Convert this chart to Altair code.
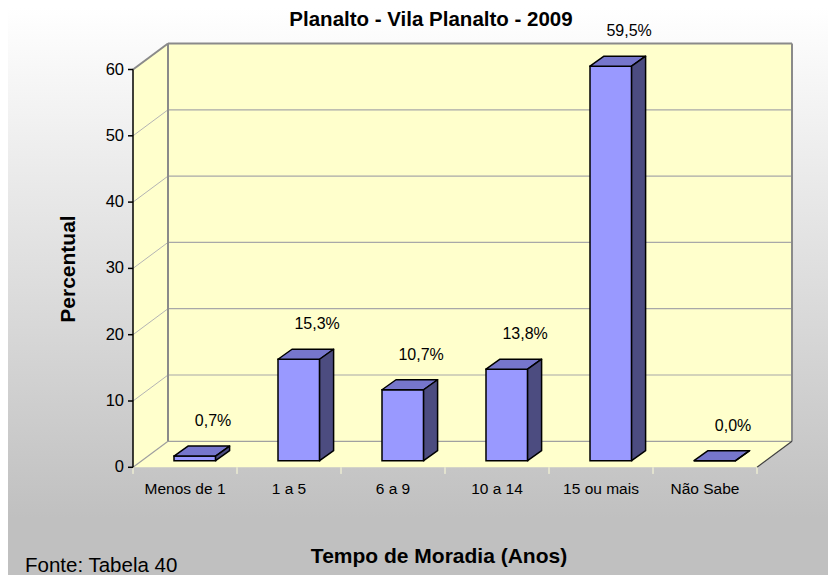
import altair as alt
import pandas as pd

# ---------------- data ----------------
categories = ["Menos de 1", "1 a 5", "6 a 9", "10 a 14", "15 ou mais", "Não Sabe"]
values = [0.7, 15.3, 10.7, 13.8, 59.5, 0.0]
value_labels = ["0,7%", "15,3%", "10,7%", "13,8%", "59,5%", "0,0%"]
y_ticks = [0, 10, 20, 30, 40, 50, 60]
title_text = "Planalto -  Vila Planalto - 2009"
x_title = "Tempo de Moradia (Anos)"
y_title = "Percentual"
source_text = "Fonte: Tabela 40"

# ---------------- layout ----------------
W, H = 820, 567          # plot area = whole canvas
PX_U = 104.0             # pixels per category
PX_V = 6.63              # pixels per percent
OX, OY = 125.0, 459.3    # canvas position of (0, 0) on the front plane
UMIN, UMAX = -OX / PX_U, (W - OX) / PX_U
VMIN, VMAX = (OY - H) / PX_V, OY / PX_V
N = len(categories)
VTOP = 60

DX = 35 / PX_U           # wall depth
DV = 26 / PX_V
SH = 9.8 / PX_U          # bar front plane shift
BASE = 6.6 / PX_V
HW = 0.2                 # half bar width
BDX = 14 / PX_U          # bar depth
BDV = 10 / PX_V
TICK_U = 5 / PX_U

YELLOW = "#ffffcc"
FONT = "Liberation Sans"

XS = alt.Scale(domain=[UMIN, UMAX], nice=False, zero=False)
YS = alt.Scale(domain=[VMIN, VMAX], nice=False, zero=False)


def X(f):
    return alt.X(f, type="quantitative", scale=XS, axis=None)


def Y(f):
    return alt.Y(f, type="quantitative", scale=YS, axis=None)


def pu(px):  # page x -> units
    return (px - 8 - OX) / PX_U


def pv(py):  # page y -> units
    return (OY - (py - 8)) / PX_V


def segs(rows):
    return pd.DataFrame(rows, columns=["u", "v", "u2", "v2"])


def rule_layer(rows, color, width):
    return alt.Chart(segs(rows)).mark_rule(color=color, strokeWidth=width).encode(
        x=X("u"), y=Y("v"), x2="u2", y2="v2")


def text_layer(df, **kw):
    return alt.Chart(df).mark_text(font=FONT, color="black", **kw).encode(
        x=X("u"), y=Y("v"), text="t:N")


# ---------------- background ----------------
bg_df = pd.DataFrame({"u": [UMIN], "u2": [UMAX], "v": [VMIN], "v2": [VMAX]})
bg = alt.Chart(bg_df).mark_rect(
    color=alt.LinearGradient(
        gradient="linear", x1=0, y1=0, x2=0, y2=1,
        stops=[alt.GradientStop(offset=0, color="#ffffff"),
               alt.GradientStop(offset=0.9, color="#c0c0c0"),
               alt.GradientStop(offset=1, color="#c0c0c0")],
    )
).encode(x=X("u"), x2="u2", y=Y("v"), y2="v2")

# floor
floor_df = pd.DataFrame({"u": [0, DX, N, N + DX], "v": [0, 0, 0, DV], "v2": [0, DV, DV, DV]})
floor = alt.Chart(floor_df).mark_area(orient="vertical", color=YELLOW).encode(
    x=X("u"), y=Y("v"), y2="v2")

# left wall
lw_df = pd.DataFrame({"u": [0, DX], "v": [0, DV], "v2": [VTOP, VTOP + DV]})
left_wall = alt.Chart(lw_df).mark_area(orient="vertical", color=YELLOW).encode(
    x=X("u"), y=Y("v"), y2="v2")

# back wall
bw_df = pd.DataFrame({"u": [DX], "u2": [N + DX], "v": [DV], "v2": [VTOP + DV]})
back_wall = alt.Chart(bw_df).mark_rect(color=YELLOW).encode(
    x=X("u"), x2="u2", y=Y("v"), y2="v2")

grid_vals = [t for t in y_ticks if 0 < t < VTOP]
grid_back = rule_layer([(DX, t + DV, N + DX, t + DV) for t in grid_vals], "#a8a8a8", 1.2)
grid_side = rule_layer([(0, t, DX, t + DV) for t in grid_vals], "#b4b4b4", 1)
frame_thin = rule_layer([(DX, DV, N + DX, DV), (0, 0, DX, DV)], "#a0a0a0", 1.2)
frame_thick = rule_layer([
    (DX, VTOP + DV, N + DX, VTOP + DV),
    (DX, DV, DX, VTOP + DV),
    (N + DX, DV, N + DX, VTOP + DV),
    (0, VTOP, DX, VTOP + DV),
], "#8a8a8a", 2)
floor_edge = rule_layer([(N, 0, N + DX, DV)], "#404040", 1.2)
y_line = rule_layer([(0, 0, 0, VTOP)], "black", 1.5)
y_tick_marks = rule_layer([(0, t, -TICK_U, t) for t in y_ticks], "black", 1.5)
x_ticks = rule_layer([(k, 0, k, -1.0) for k in range(N + 1)], "#ffffd8", 1)

# ---------------- bars ----------------
front_rows, top_rows, side_rows = [], [], []
for i, val in enumerate(values):
    x0 = i + 0.5 + SH - HW
    x1 = i + 0.5 + SH + HW
    T = BASE + val
    front_rows.append({"bar": i, "u": x0, "u2": x1, "v": BASE, "v2": T})
    top_rows += [
        {"bar": i, "u": x0, "v": T, "v2": T},
        {"bar": i, "u": x0 + BDX, "v": T, "v2": T + BDV},
        {"bar": i, "u": x1, "v": T, "v2": T + BDV},
        {"bar": i, "u": x1 + BDX, "v": T + BDV, "v2": T + BDV},
    ]
    side_rows += [
        {"bar": i, "u": x1, "v": BASE, "v2": T},
        {"bar": i, "u": x1 + BDX, "v": BASE + BDV, "v2": T + BDV},
    ]

front = alt.Chart(pd.DataFrame(front_rows)).mark_rect(
    color="#9999ff", stroke="black", strokeWidth=1.5).encode(
    x=X("u"), x2="u2", y=Y("v"), y2="v2")
top = alt.Chart(pd.DataFrame(top_rows)).mark_area(
    orient="vertical", color="#7676cc", stroke="black", strokeWidth=1.5,
    strokeJoin="round").encode(x=X("u"), y=Y("v"), y2="v2", detail="bar:N")
side = alt.Chart(pd.DataFrame(side_rows)).mark_area(
    orient="vertical", color="#4c4c80", stroke="black", strokeWidth=1.5,
    strokeJoin="round").encode(x=X("u"), y=Y("v"), y2="v2", detail="bar:N")

# ---------------- texts ----------------
labels = text_layer(pd.DataFrame({
    "u": [i + 0.5 + 0.27 for i in range(N)],
    "v": [v + 6.3 for v in values],
    "t": value_labels,
}), fontSize=16, baseline="middle", align="center")

y_labels = text_layer(pd.DataFrame({
    "u": [-(TICK_U + 4 / PX_U)] * len(y_ticks),
    "v": y_ticks,
    "t": [str(t) for t in y_ticks],
}), fontSize=16.5, baseline="middle", align="right")

x_labels = text_layer(pd.DataFrame({
    "u": [i + 0.5 for i in range(N)],
    "v": [pv(489)] * N,
    "t": categories,
}), fontSize=15.5, baseline="middle", align="center")

title = text_layer(pd.DataFrame({"u": [pu(431)], "v": [pv(20)], "t": [title_text]}),
                   fontSize=20.5, fontWeight="bold", baseline="middle", align="center")
x_title_l = text_layer(pd.DataFrame({"u": [pu(439)], "v": [pv(557)], "t": [x_title]}),
                       fontSize=21, fontWeight="bold", baseline="middle", align="center")
y_title_l = text_layer(pd.DataFrame({"u": [pu(69)], "v": [pv(269)], "t": [y_title]}),
                       fontSize=21, fontWeight="bold", baseline="middle", align="center",
                       angle=270)
source = text_layer(pd.DataFrame({"u": [pu(25)], "v": [pv(566)], "t": [source_text]}),
                    fontSize=20.5, baseline="middle", align="left")

chart = alt.layer(
    bg, floor, left_wall, back_wall, grid_back, grid_side, frame_thin, frame_thick,
    floor_edge, x_ticks, y_line, y_tick_marks, front, top, side,
    labels, y_labels, x_labels, title, x_title_l, y_title_l, source,
).properties(
    width=W, height=H, padding=0, autosize=alt.AutoSizeParams(type="none"),
    background="white",
).configure_view(stroke="transparent")

chart.save("out.html", embed_options={"renderer": "svg", "actions": False})
